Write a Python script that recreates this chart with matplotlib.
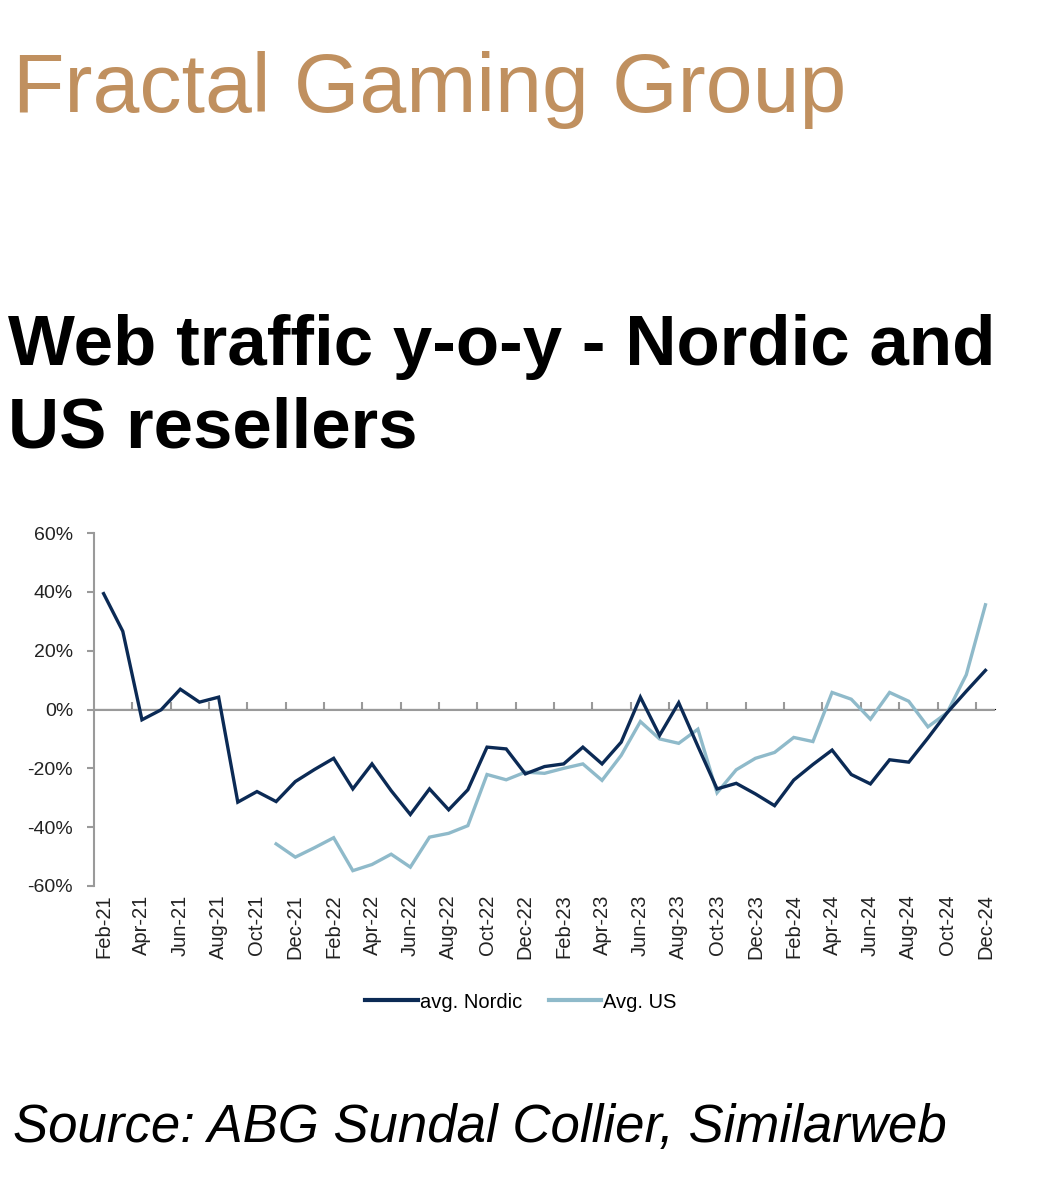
import matplotlib
matplotlib.use("Agg")
import matplotlib.pyplot as plt
import numpy as np

plt.rcParams['font.family'] = ['Liberation Sans', 'DejaVu Sans']

months = ["Feb-21","Mar-21","Apr-21","May-21","Jun-21","Jul-21","Aug-21","Sep-21","Oct-21","Nov-21","Dec-21",
          "Jan-22","Feb-22","Mar-22","Apr-22","May-22","Jun-22","Jul-22","Aug-22","Sep-22","Oct-22","Nov-22","Dec-22",
          "Jan-23","Feb-23","Mar-23","Apr-23","May-23","Jun-23","Jul-23","Aug-23","Sep-23","Oct-23","Nov-23","Dec-23",
          "Jan-24","Feb-24","Mar-24","Apr-24","May-24","Jun-24","Jul-24","Aug-24","Sep-24","Oct-24","Nov-24","Dec-24"]

nordic = [39.4, 26.6, -3.5, -0.1, 6.9, 2.5, 4.2, -31.5, -27.9, -31.3, -24.5,
          -20.4, -16.6, -27.0, -18.5, -27.6, -35.7, -27.0, -34.1, -27.3, -12.8, -13.4, -21.9,
          -19.4, -18.5, -12.8, -18.5, -11.1, 4.2, -8.8, 2.3, -12.5, -27.0, -25.1, -28.7,
          -32.7, -24.0, -18.7, -13.8, -22.1, -25.3, -17.1, -17.9, -9.7, -1.1, 6.2, 13.3]

us = [None, None, None, None, None, None, None, None, None, -45.7, -50.2,
      -47.0, -43.6, -54.8, -52.7, -49.2, -53.6, -43.4, -42.1, -39.5, -22.1, -23.9, -21.3,
      -21.7, -20.0, -18.5, -24.1, -15.6, -4.1, -10.0, -11.5, -6.7, -28.3, -20.5, -16.6,
      -14.6, -9.5, -10.9, 5.8, 3.5, -3.3, 5.8, 2.8, -5.9, -1.1, 11.8, 35.6]

series_names = ["avg. Nordic", "Avg. US"]
colors = ["#0B2A55", "#8FBACA"]

fig = plt.figure(figsize=(10.6, 12), dpi=100)

fig.text(0.012, 0.907, "Fractal Gaming Group", fontsize=60.7, color="#C0905F",
         ha="left", va="baseline")
fig.text(0.008, 0.696, "Web traffic y-o-y - Nordic and", fontsize=51, fontweight="bold",
         color="black", ha="left", va="baseline")
fig.text(0.008, 0.627, "US resellers", fontsize=51, fontweight="bold",
         color="black", ha="left", va="baseline")
fig.text(0.012, 0.048, "Source: ABG Sundal Collier, Similarweb", fontsize=38, style="italic",
         color="black", ha="left", va="baseline")

ax = fig.add_axes([0.0887, 0.2617, 0.85, 0.2941])
x = np.arange(len(months))
nord_arr = np.array(nordic, dtype=float)
us_arr = np.array([np.nan if v is None else v for v in us], dtype=float)

ax.plot(x, nord_arr, color=colors[0], lw=2.4, label=series_names[0], solid_joinstyle="miter", zorder=3)
ax.plot(x, us_arr, color=colors[1], lw=2.4, label=series_names[1], solid_joinstyle="miter", zorder=2)

ax.set_xlim(-0.5, len(months) - 0.5)
ax.set_ylim(-60, 60)
ax.set_yticks(np.arange(-60, 61, 20))
ax.set_yticklabels([f"{v}%" for v in range(-60, 61, 20)])

gray = "#9A9A9A"
for s in ["top", "right", "bottom"]:
    ax.spines[s].set_visible(False)
ax.spines["left"].set_color(gray)
ax.spines["left"].set_linewidth(1.5)
ax.tick_params(axis="y", direction="out", length=5, width=1.5, color=gray,
               labelsize=14, labelcolor="#222222", pad=10)

ax.axhline(0, color=gray, lw=1.5, zorder=1)

ax.set_xticks(x[::2])
ax.set_xticklabels(months[::2], rotation=90, fontsize=14.5, color="#222222")
ax.tick_params(axis="x", length=0, pad=6)

sec = ax.secondary_xaxis(0.5)
sec.set_xticks(np.arange(1.5, len(months) - 1, 2))
sec.set_xticklabels([])
sec.spines["bottom"].set_visible(False)
sec.tick_params(axis="x", direction="out", length=5, width=1.5, color=gray)

leg = fig.legend(loc="center", bbox_to_anchor=(0.4915, 0.165), ncol=2, frameon=False,
                 fontsize=14.5, handlelength=2.6, handletextpad=0.1, columnspacing=1.35)
for line in leg.get_lines():
    line.set_linewidth(3)

fig.savefig("out.png", dpi=100)
